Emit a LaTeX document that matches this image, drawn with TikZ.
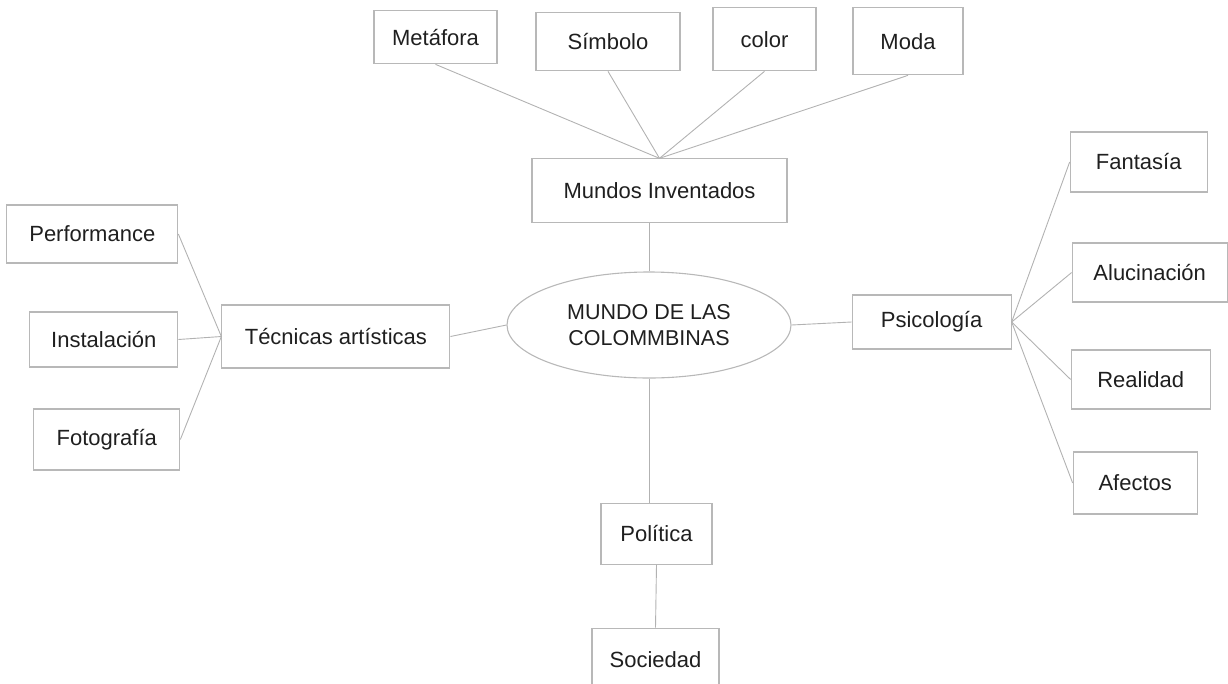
\documentclass[tikz,border=0pt]{standalone}
\usepackage{fontspec}
\setmainfont{Liberation Sans}
\usepackage{tikz}
\tikzstyle{concept}=[rectangle,draw=black!28,line width=1.1pt,inner sep=0pt,
text=black!88,font=\fontsize{22}{26}\selectfont]
\tikzstyle{core}=[ellipse,draw=black!28,line width=1.1pt,inner sep=0pt,
minimum width=284pt,minimum height=106pt,align=center,text=black!88,
font=\fontsize{21.5}{25.5}\selectfont]
\tikzstyle{link}=[draw=black!30,line width=0.9pt]
\usetikzlibrary{shapes.geometric,positioning}

\begin{document}
\begin{tikzpicture}[x=1pt,y=1pt]
            \useasboundingbox (0,0) rectangle (1228,-683);

            % CENTRE
            \node[core] (mundo) at (649,-325) {MUNDO DE LAS\\COLOMMBINAS};

            % MUNDOS INVENTADOS PART
            \node[concept,minimum width=255pt,minimum height=64pt,above=48pt of mundo,xshift=10.5pt] (mundos) {Mundos Inventados};
            \node[concept,minimum width=123pt,minimum height=53pt,above=94pt of mundos,xshift=-224pt] (meta) {Metáfora};
            \node[concept,minimum width=144pt,minimum height=58pt,above=87pt of mundos,xshift=-51.5pt] (simb) {Símbolo};
            \node[concept,minimum width=103pt,minimum height=63pt,above=87pt of mundos,xshift=105pt] (color) {color};
            \node[concept,minimum width=110pt,minimum height=67pt,above=83pt of mundos,xshift=248.5pt] (moda) {Moda};

            \path[link] (meta.south) edge (mundos.north);
            \path[link] (simb.south) edge (mundos.north);
            \path[link] (color.south) edge (mundos.north);
            \path[link] (moda.south) edge (mundos.north);
            \path[link] (mundo.north |- mundos.south) edge (mundo.north);

            % TECNICAS PART
            \node[concept,minimum width=228pt,minimum height=63pt,left=56pt of mundo,yshift=-11.5pt] (tec) {Técnicas artísticas};
            \node[concept,minimum width=171pt,minimum height=58pt,left=43pt of tec,yshift=102.5pt] (perf) {Performance};
            \node[concept,minimum width=148pt,minimum height=55pt,left=43pt of tec,yshift=-3pt] (inst) {Instalación};
            \node[concept,minimum width=146pt,minimum height=61pt,left=41pt of tec,yshift=-103pt] (foto) {Fotografía};

            \path[link] (tec.east) edge (mundo.west);
            \path[link] (perf.east) edge (tec.west);
            \path[link] (inst.east) edge (tec.west);
            \path[link] (foto.east) edge (tec.west);

            % PSICOLOGIA PART
            \node[concept,minimum width=159pt,minimum height=54pt,right=60pt of mundo,yshift=3pt] (psico) {Psicología};
            \node[concept,minimum width=137pt,minimum height=60pt,right=58pt of psico,yshift=160pt] (fan) {Fantasía};
            \node[concept,minimum width=155pt,minimum height=59pt,right=60pt of psico,yshift=49.5pt] (aluc) {Alucinación};
            \node[concept,minimum width=139pt,minimum height=59pt,right=59pt of psico,yshift=-57.5pt] (real) {Realidad};
            \node[concept,minimum width=124pt,minimum height=62pt,right=61pt of psico,yshift=-161pt] (afe) {Afectos};

            \path[link] (mundo.east) edge (psico.west);
            \path[link] (psico.east) edge (fan.west);
            \path[link] (psico.east) edge (aluc.west);
            \path[link] (psico.east) edge (real.west);
            \path[link] (psico.east) edge (afe.west);

            % POLITICA PART
            \node[concept,minimum width=111pt,minimum height=61pt,below=124pt of mundo,xshift=7.5pt] (pol) {Política};
            \node[concept,minimum width=127pt,minimum height=62pt,below=63pt of pol,xshift=-1pt] (soc) {Sociedad};

            \path[link] (mundo.south) edge (mundo.south |- pol.north);
            \path[link] (pol.south) edge (soc.north);

\end{tikzpicture}
\end{document}
